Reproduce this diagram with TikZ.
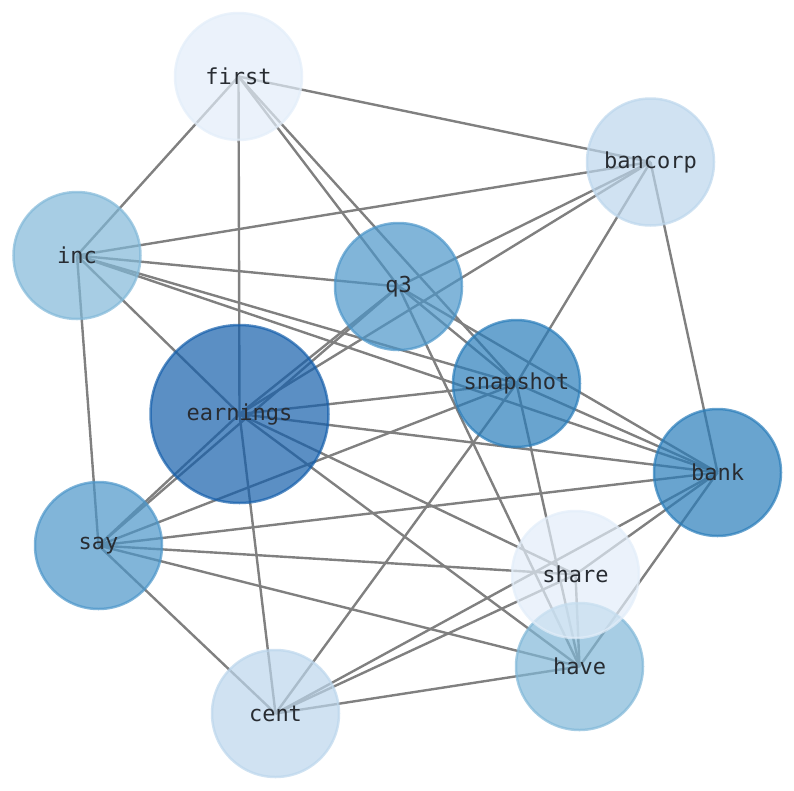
\documentclass[tikz,border=0pt]{standalone}
\usepackage{fontspec}
\setmonofont{DejaVu Sans Mono}
\pgfdeclarelayer{bg}
\pgfsetlayers{bg,main}
\definecolor{edgec}{RGB}{128,128,128}
\definecolor{labc}{RGB}{40,44,50}
\definecolor{cA}{RGB}{226,237,249}
\definecolor{cB}{RGB}{188,214,236}
\definecolor{cC}{RGB}{129,184,216}
\definecolor{cD}{RGB}{76,150,201}
\definecolor{cE}{RGB}{42,125,186}
\definecolor{cF}{RGB}{21,95,171}
\begin{document}
\begin{tikzpicture}[x=1pt,y=-1pt,
  vert/.style={circle, minimum size=127pt, inner sep=0pt, draw=#1, fill=#1,
    fill opacity=0.7, draw opacity=0.7, text opacity=1, line width=2.5pt,
    font=\ttfamily\fontsize{22}{26}\selectfont, text=labc},
  link/.style={draw=edgec, line width=2.4pt}]
\useasboundingbox (0,0) rectangle (794,790);
\node[vert=cE] (snapshot) at (516.5,383.5) {snapshot};
\node[vert=cA] (first) at (238.5,76.5) {first};
\node[vert=cB] (bancorp) at (650.5,162) {bancorp};
\node[vert=cC] (inc) at (77,255.5) {inc};
\node[vert=cD] (q3) at (398.5,286.5) {q3};
\node[vert=cF, minimum size=178pt] (earnings) at (239.5,414) {earnings};
\node[vert=cE] (bank) at (717.5,472.5) {bank};
\node[vert=cD] (say) at (98.5,545.5) {say};
\node[vert=cC] (have) at (579.5,666.5) {have};
\node[vert=cA] (share) at (575.5,574.5) {share};
\node[vert=cB] (cent) at (275.5,713.5) {cent};
\begin{pgfonlayer}{bg}
\foreach \a/\b in {first/inc, first/earnings, first/bancorp, first/q3, first/snapshot,
  bancorp/inc, bancorp/q3, bancorp/earnings, bancorp/snapshot, bancorp/bank,
  inc/q3, inc/snapshot, inc/bank, inc/earnings, inc/say,
  q3/earnings, q3/say, q3/snapshot, q3/bank, q3/have,
  snapshot/earnings, snapshot/bank, snapshot/say, snapshot/cent, snapshot/have,
  earnings/say, earnings/bank, earnings/share, earnings/have, earnings/cent,
  bank/say, bank/cent, bank/share, bank/have,
  say/share, say/have, say/cent,
  share/cent, share/have,
  have/cent}
  \draw[link] (\a.center) -- (\b.center);
\end{pgfonlayer}
\end{tikzpicture}
\end{document}
